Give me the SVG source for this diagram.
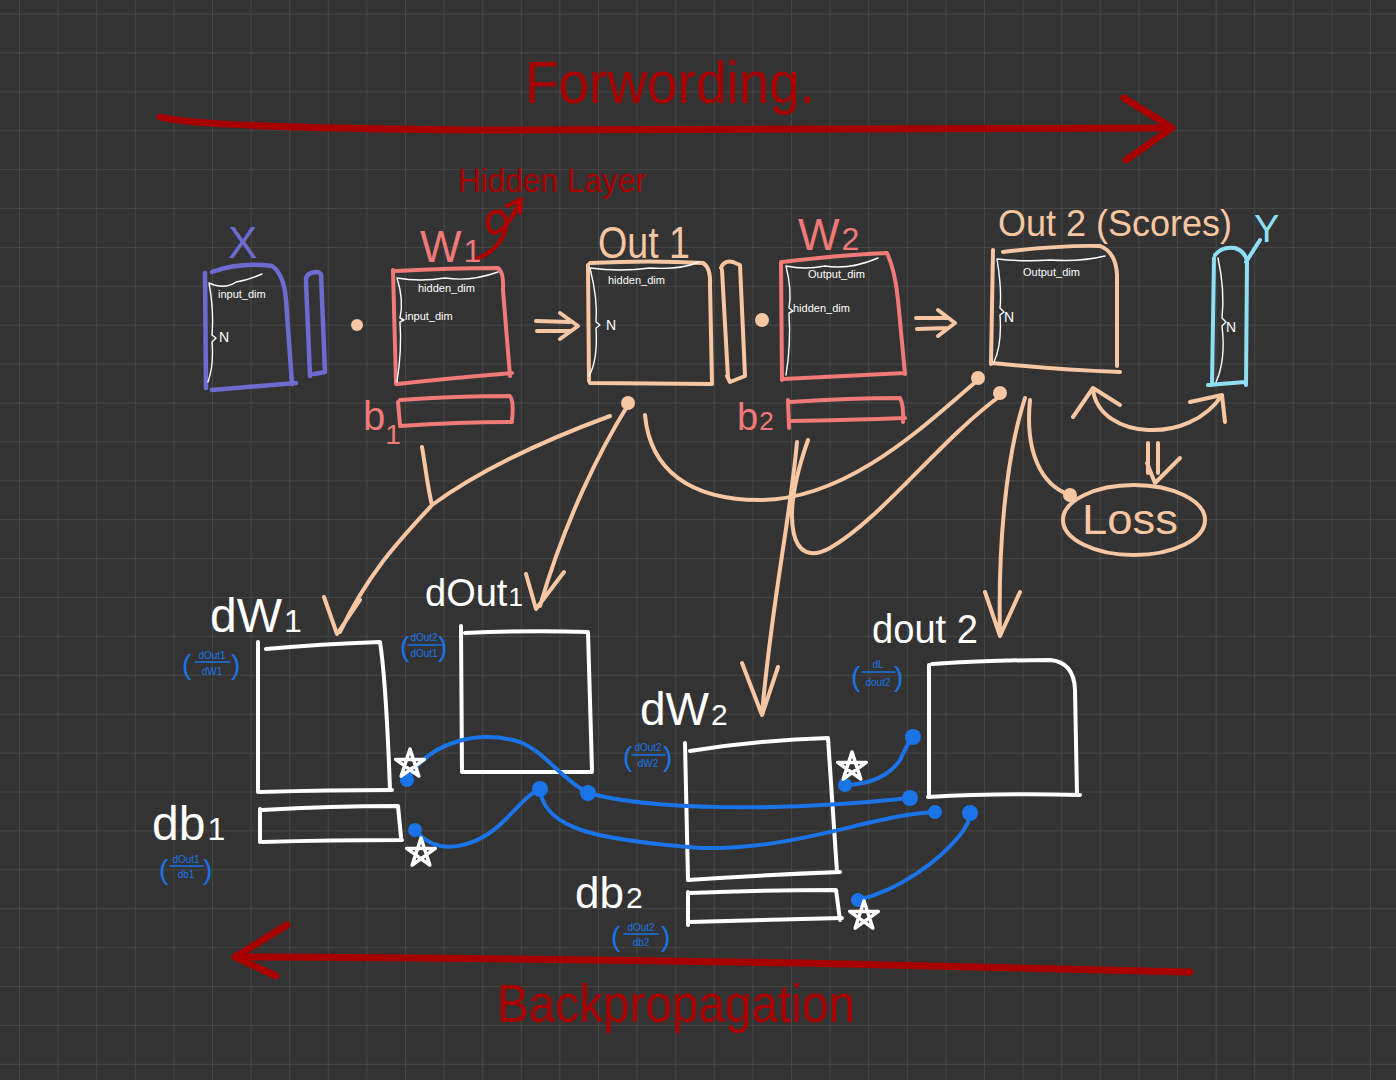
<svg xmlns="http://www.w3.org/2000/svg" width="1396" height="1080" viewBox="0 0 1396 1080">
<defs>
<pattern id="grid" x="19" y="13.5" width="38.6" height="38.9" patternUnits="userSpaceOnUse">
<path d="M0,0 H38.6 M0,0 V38.9" stroke="#4a4a4a" stroke-width="1.6" fill="none"/>
</pattern>
<path id="star" d="M0,-15 L8.8,12.1 L-14.3,-4.6 L14.3,-4.6 L-8.8,12.1 Z"/>
</defs>
<style>
.s{fill:none;stroke-linecap:round;stroke-linejoin:round}
.red{stroke:#a80000;stroke-width:7}
.pur{stroke:#6b6bd0;stroke-width:4.5}
.pink{stroke:#ef7a78;stroke-width:4}
.peach{stroke:#f7c7a3;stroke-width:4}
.cyan{stroke:#8fdff2;stroke-width:4}
.wht{stroke:#ffffff;stroke-width:4}
.thin{stroke:#ffffff;stroke-width:1.4}
.blu{stroke:#1a74e8;stroke-width:4}
.star{fill:none;stroke:#ffffff;stroke-width:3.5;stroke-linejoin:round}
.bdot{fill:#1a74e8}
.pdot{fill:#f7c7a3}
text{font-family:"Liberation Sans","DejaVu Sans",sans-serif}
.tred{fill:#a80000}
.tpink{fill:#ef7a78}
.tpeach{fill:#f7c7a3}
.twht{fill:#ffffff}
.tsm{fill:#ffffff;font-size:11px}
.tblu{fill:#1a74e8;font-size:10px;text-anchor:middle}
.par{fill:#1a74e8;font-size:28px;font-weight:300}
</style>
<rect width="1396" height="1080" fill="#333333"/>
<rect width="1396" height="1080" fill="url(#grid)"/>

<g id="forward-title">
<text class="tred" x="525" y="103" font-size="60" textLength="290" lengthAdjust="spacingAndGlyphs">Forwording.</text>
<path class="s red" d="M160,117 Q200,128 480,130 L1170,128"/>
<path class="s red" d="M1124,98 L1172,128 L1126,160"/>
</g>

<g id="hidden-layer-label">
<text class="tred" x="458" y="192" font-size="34" textLength="188" lengthAdjust="spacingAndGlyphs">Hidden Layer</text>
<path class="s" stroke="#b00000" stroke-width="4" d="M478,258 C500,250 510,228 505,217 C498,205 484,214 489,228 C494,241 508,226 519,204 M507,206 L521,199 L520,213"/>
</g>

<g id="node-X">
<text x="228" y="258" font-size="44" fill="#6b6bd0">X</text>
<path class="s pur" d="M212,272 Q240,262 272,266 Q284,274 286,300 L292,384 M205,273 L206,388 M212,390 L296,383"/>
<path class="s pur" d="M306,280 Q306,272 318,272 L321,274 L325,372 L314,374 M306,282 L310,376"/>
<path class="s thin" d="M209,283 Q225,290 236,282 Q248,280 262,274 M209,283 Q214,310 212,335 L216,338 L212,342 Q214,365 208,382"/>
<text class="tsm" x="218" y="298">input_dim</text>
<text class="twht" x="219" y="342" font-size="14">N</text>
</g>

<circle class="pdot" cx="357" cy="325" r="6"/>

<g id="node-W1">
<text class="tpink" x="420" y="262" font-size="44">W<tspan font-size="32" dx="2">1</tspan></text>
<path class="s pink" d="M396,271 Q450,268 498,268 Q504,272 503,290 L510,376 M393,270 L396,384 M397,384 Q450,378 512,373"/>
<path class="s thin" d="M397,278 Q420,282 445,278 Q470,282 498,272 M397,278 Q404,300 400,318 L404,320 L400,322 Q402,350 397,382"/>
<text class="tsm" x="418" y="292">hidden_dim</text>
<text class="tsm" x="405" y="320">input_dim</text>
<text class="tpink" x="363" y="430" font-size="40">b<tspan font-size="28" dy="14">1</tspan></text>
<path class="s pink" d="M400,400 Q455,396 510,396 Q514,402 512,420 M398,402 L400,425 M400,426 Q460,422 512,422"/>
</g>

<g id="fw-arrow-1">
<path class="s peach" d="M536,321 L570,322 M537,331 L570,331 M560,313 L578,326 L560,339"/>
</g>

<g id="node-Out1">
<text class="tpeach" x="598" y="258" font-size="44" textLength="92" lengthAdjust="spacingAndGlyphs">Out 1</text>
<path class="s peach" d="M590,263 Q650,260 703,263 Q711,268 710,285 L712,384 M588,265 L589,381 M590,383 L712,384"/>
<path class="s peach" d="M721,268 Q724,260 733,262 L740,265 L745,376 L730,382 L727,376 M722,270 L728,378"/>
<path class="s thin" d="M590,268 Q620,272 650,268 Q680,270 699,262 M590,268 Q598,300 596,322 L600,325 L596,328 Q598,360 589,376"/>
<text class="tsm" x="608" y="284">hidden_dim</text>
<text class="twht" x="606" y="330" font-size="14">N</text>
</g>

<circle class="pdot" cx="762" cy="320" r="7"/>

<g id="node-W2">
<text class="tpink" x="798" y="250" font-size="44">W<tspan font-size="32" dx="2">2</tspan></text>
<path class="s pink" d="M782,262 Q840,255 887,253 Q895,270 898,300 L905,374 M781,262 L782,380 M783,379 Q845,376 905,373"/>
<path class="s thin" d="M786,266 Q805,270 825,266 Q850,270 878,258 M786,266 Q792,290 789,308 L793,311 L789,313 Q791,345 786,375"/>
<text class="tsm" x="808" y="278">Output_dim</text>
<text class="tsm" x="793" y="312">hidden_dim</text>
<text class="tpink" x="737" y="430" font-size="38">b<tspan font-size="26" dx="1">2</tspan></text>
<path class="s pink" d="M790,402 Q850,398 900,398 Q904,405 903,422 M788,400 L789,428 M790,421 Q850,420 905,418"/>
</g>

<g id="fw-arrow-2">
<path class="s peach" d="M916,318 L948,318 M917,329 L948,328 M938,310 L955,323 L938,336"/>
</g>

<g id="node-Out2">
<text class="tpeach" x="998" y="236" font-size="36">Out 2 (Scores)</text>
<path class="s peach" d="M1003,252 Q1060,245 1100,246 Q1116,252 1117,275 L1117,366 M993,250 L991,364 M992,363 Q1060,370 1120,372"/>
<path class="s thin" d="M997,259 Q1025,262 1050,260 Q1080,262 1105,256 M997,259 Q1002,290 1000,308 L1004,312 L1000,315 Q1002,345 994,362"/>
<text class="tsm" x="1023" y="276">Output_dim</text>
<text class="twht" x="1004" y="322" font-size="14">N</text>
</g>

<g id="node-Y">
<text x="1254" y="242" font-size="38" fill="#8fdff2">Y</text>
<path class="s cyan" d="M1215,255 Q1222,246 1235,248 Q1246,252 1247,262 L1246,385 M1214,258 L1212,385 M1208,385 L1245,382 M1246,262 L1260,240"/>
<path class="s thin" d="M1218,258 Q1225,290 1222,318 L1226,322 L1222,326 Q1226,360 1216,382"/>
<text class="twht" x="1226" y="332" font-size="14">N</text>
</g>

<g id="node-Loss">
<ellipse class="s peach" cx="1134" cy="520" rx="71" ry="35"/>
<text class="tpeach" x="1082" y="534" font-size="42" textLength="96" lengthAdjust="spacingAndGlyphs">Loss</text>
</g>

<g id="node-dW1">
<text class="twht" x="210" y="632" font-size="48">dW<tspan font-size="32" dx="2">1</tspan></text>
<path class="s wht" d="M258,642 L258,792 M266,649 Q320,644 380,642 Q386,680 390,790 M260,792 Q330,790 392,790"/>
<text class="par" x="182" y="674">(</text>
<text class="tblu" x="212" y="659">dOut1</text>
<path class="s" stroke="#1a74e8" stroke-width="1.5" d="M195,662 L230,662"/>
<text class="tblu" x="212" y="675">dW1</text>
<text class="par" x="231" y="674">)</text>
</g>

<g id="node-db1">
<text class="twht" x="152" y="840" font-size="48">db<tspan font-size="32" dx="2">1</tspan></text>
<path class="s wht" d="M260,809 L260,842 M262,810 Q330,806 398,806 L401,837 M262,842 Q330,840 402,840"/>
<text class="par" x="159" y="879">(</text>
<text class="tblu" x="186" y="863">dOut1</text>
<path class="s" stroke="#1a74e8" stroke-width="1.5" d="M170,866 L203,866"/>
<text class="tblu" x="186" y="878">db1</text>
<text class="par" x="203" y="879">)</text>
</g>

<g id="node-dout1">
<text class="twht" x="425" y="606" font-size="38">dOut<tspan font-size="26" dx="1">1</tspan></text>
<path class="s wht" d="M461,626 L462,772 M465,633 Q530,630 588,632 L592,770 M464,772 L592,772"/>
<text class="par" x="400" y="656">(</text>
<text class="tblu" x="424" y="641">dOut2</text>
<path class="s" stroke="#1a74e8" stroke-width="1.5" d="M408,645 L441,645"/>
<text class="tblu" x="424" y="657">dOut1</text>
<text class="par" x="438" y="656">)</text>
</g>

<g id="node-dW2">
<text class="twht" x="640" y="725" font-size="46">dW<tspan font-size="30" dx="2">2</tspan></text>
<path class="s wht" d="M685,743 L688,880 M690,751 Q760,740 828,738 L837,872 M688,880 Q760,875 840,872"/>
<text class="par" x="623" y="766">(</text>
<text class="tblu" x="648" y="751">dOut2</text>
<path class="s" stroke="#1a74e8" stroke-width="1.5" d="M632,755 L665,755"/>
<text class="tblu" x="648" y="767">dW2</text>
<text class="par" x="663" y="766">)</text>
</g>

<g id="node-db2">
<text class="twht" x="575" y="908" font-size="44">db<tspan font-size="30" dx="2">2</tspan></text>
<path class="s wht" d="M688,892 L688,925 M690,893 Q760,890 836,890 L840,920 M690,922 Q760,920 842,918"/>
<text class="par" x="611" y="946">(</text>
<text class="tblu" x="641" y="931">dOut2</text>
<path class="s" stroke="#1a74e8" stroke-width="1.5" d="M624,934 L658,934"/>
<text class="tblu" x="641" y="946">db2</text>
<text class="par" x="661" y="946">)</text>
</g>

<g id="node-dout2">
<text class="twht" x="872" y="643" font-size="40" textLength="106" lengthAdjust="spacingAndGlyphs">dout 2</text>
<path class="s wht" d="M929,665 L929,795 M932,664 Q1000,660 1050,660 Q1074,662 1075,690 L1077,795 M928,797 Q1000,793 1080,795"/>
<text class="par" x="851" y="686">(</text>
<text class="tblu" x="878" y="668">dL</text>
<path class="s" stroke="#1a74e8" stroke-width="1.5" d="M862,672 L895,672"/>
<text class="tblu" x="878" y="686">dout2</text>
<text class="par" x="894" y="686">)</text>
</g>

<g id="connectors">
<g id="fw-connectors">
<circle class="pdot" cx="628" cy="403" r="7"/>
<path class="s peach" d="M628,405 C600,450 565,520 540,606 M526,574 L536,609 L564,572"/>
<path class="s peach" d="M422,447 C426,470 428,490 432,505 C480,470 545,440 610,416 M432,505 C400,540 370,570 340,632 M324,597 L337,634 L360,600"/>
<path class="s peach" d="M645,415 C650,470 690,500 760,500 C850,500 930,420 978,380"/>
<circle class="pdot" cx="978" cy="378" r="7"/>
<path class="s peach" d="M808,440 C780,520 790,570 830,548 C880,520 940,440 1000,396"/>
<circle class="pdot" cx="1000" cy="393" r="7"/>
<path class="s peach" d="M797,442 C790,520 772,600 762,714 M742,663 L762,715 L778,667"/>
<path class="s peach" d="M1025,398 C1005,460 998,550 1000,635 M985,592 L1000,636 L1020,592"/>
<path class="s peach" d="M1030,400 C1025,450 1040,485 1070,495"/>
<circle class="pdot" cx="1070" cy="495" r="7"/>
<path class="s peach" d="M1093,390 C1100,440 1190,445 1222,395 M1073,417 L1093,388 L1120,405 M1190,402 L1222,395 L1225,422"/>
<path class="s peach" d="M1148,443 L1148,473 M1158,443 L1158,473 M1147,463 L1155,483 L1180,458"/>
</g>
<g id="bp-connectors">
<path class="s blu" d="M407,780 C430,740 480,730 520,742 C545,752 560,778 588,793 C650,810 780,812 910,798"/>
<path class="s blu" d="M415,830 C440,860 480,845 505,820 C520,805 530,792 540,790 C545,830 600,840 700,848 C800,850 870,815 935,812"/>
<path class="s blu" d="M845,785 C870,785 890,775 900,760 C905,750 908,742 913,737"/>
<path class="s blu" d="M858,900 C900,890 940,860 960,835 C968,825 970,818 970,813"/>
<circle class="bdot" cx="407" cy="780" r="7"/>
<circle class="bdot" cx="588" cy="793" r="8"/>
<circle class="bdot" cx="910" cy="798" r="8"/>
<circle class="bdot" cx="415" cy="830" r="7"/>
<circle class="bdot" cx="540" cy="789" r="8"/>
<circle class="bdot" cx="935" cy="812" r="7"/>
<circle class="bdot" cx="845" cy="785" r="7"/>
<circle class="bdot" cx="913" cy="737" r="8"/>
<circle class="bdot" cx="858" cy="900" r="7"/>
<circle class="bdot" cx="970" cy="813" r="8"/>
<use href="#star" class="star" x="410" y="764"/>
<use href="#star" class="star" x="421" y="853"/>
<use href="#star" class="star" x="852" y="767"/>
<use href="#star" class="star" x="864" y="916"/>
</g>
</g>

<g id="backprop-title">
<path class="s red" d="M236,957 Q500,958 800,963 L1190,972"/>
<path class="s red" d="M287,925 L235,957 L276,976"/>
<text class="tred" x="497" y="1022" font-size="54" textLength="358" lengthAdjust="spacingAndGlyphs">Backpropagation</text>
</g>
</svg>
